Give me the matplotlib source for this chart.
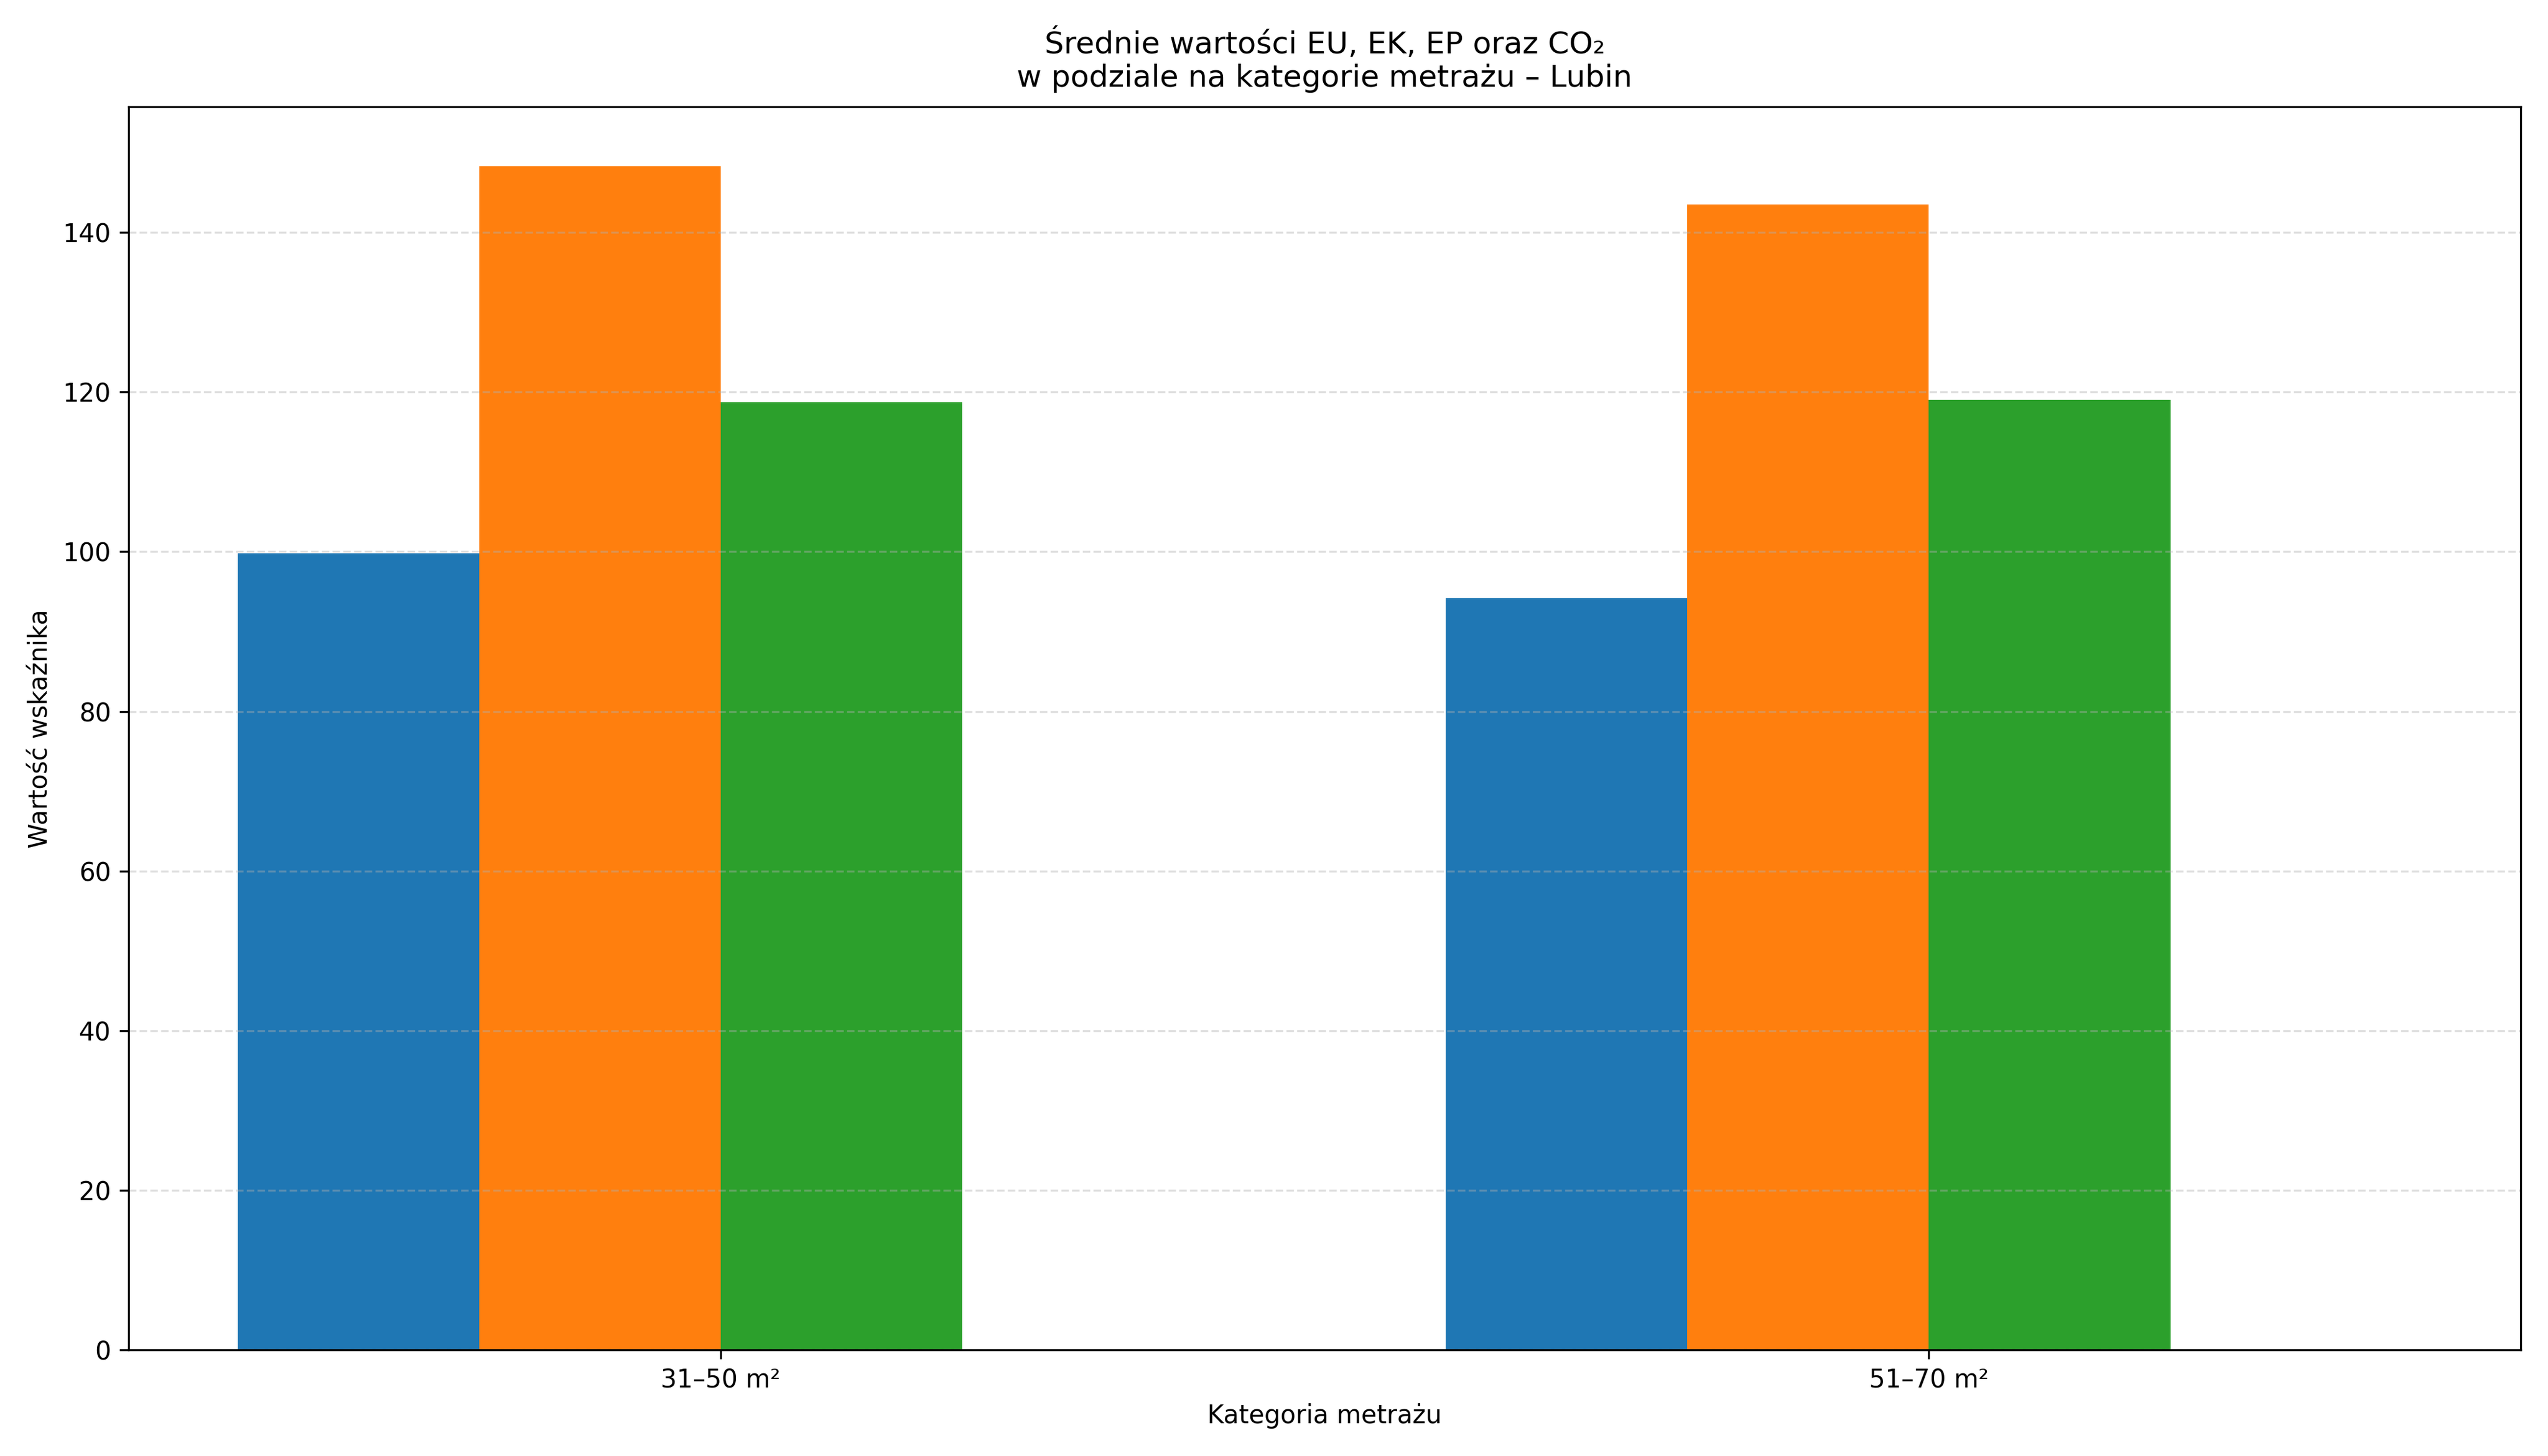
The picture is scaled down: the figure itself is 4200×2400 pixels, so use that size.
import numpy as np
import matplotlib
matplotlib.use("Agg")
import matplotlib.pyplot as plt

categories = ["31–50 m²", "51–70 m²"]
eu_values = [99.8, 94.2]
ek_values = [148.3, 143.5]
ep_values = [118.7, 119.0]
co2_values = [0.0, 0.0]

series = [
    ("EU", eu_values),
    ("EK", ek_values),
    ("EP", ep_values),
    ("CO₂", co2_values),
]

x = np.arange(len(categories))
width = 0.2

fig, ax = plt.subplots(figsize=(14, 8), dpi=300)

for i, (name, vals) in enumerate(series):
    ax.bar(x + (i - 1.5) * width, vals, width, label=name)

ax.set_xticks(x)
ax.set_xticklabels(categories)
ax.set_xlabel("Kategoria metrażu")
ax.set_ylabel("Wartość wskaźnika")
ax.set_title("Średnie wartości EU, EK, EP oraz CO₂\nw podziale na kategorie metrażu – Lubin", pad=8)
ax.grid(axis="y", linestyle="--", alpha=0.4)

plt.tight_layout()
plt.savefig("out.png", dpi=300)
